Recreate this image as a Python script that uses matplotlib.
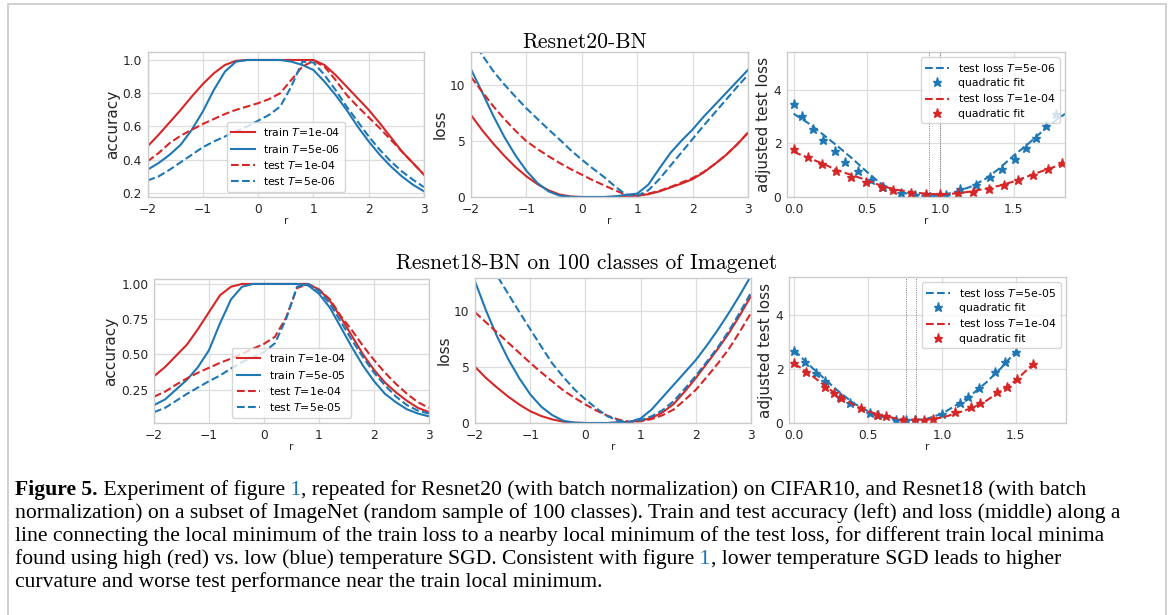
import matplotlib
matplotlib.use('Agg')
import matplotlib.pyplot as plt
from matplotlib.patches import Rectangle

W, H = 1169, 615

RED = '#d62728'
BLUE = '#1f77b4'

# sample positions along the line (r)
r = [-2.0, -1.8, -1.6, -1.4, -1.2, -1.0, -0.8, -0.6, -0.4, -0.2, 0.0, 0.2, 0.4,
     0.6, 0.8, 1.0, 1.2, 1.4, 1.6, 1.8, 2.0, 2.2, 2.4, 2.6, 2.8, 3.0]

# ---- Resnet20-BN (CIFAR10) ----
acc20_train_hi = [0.48, 0.55, 0.625, 0.70, 0.78, 0.855, 0.92, 0.97, 0.995, 1.0, 1.0, 1.0, 1.0,
                  1.0, 1.0, 1.0, 0.97, 0.91, 0.84, 0.77, 0.70, 0.62, 0.535, 0.45, 0.38, 0.31]
acc20_train_lo = [0.34, 0.38, 0.43, 0.49, 0.58, 0.69, 0.82, 0.93, 0.99, 1.0, 1.0, 1.0, 1.0,
                  0.99, 0.97, 0.94, 0.87, 0.79, 0.70, 0.60, 0.51, 0.43, 0.36, 0.30, 0.25, 0.21]
acc20_test_hi = [0.39, 0.44, 0.50, 0.545, 0.58, 0.615, 0.645, 0.675, 0.70, 0.72, 0.74, 0.765, 0.80,
                 0.88, 0.96, 0.995, 0.96, 0.88, 0.79, 0.72, 0.655, 0.59, 0.52, 0.45, 0.38, 0.31]
acc20_test_lo = [0.275, 0.30, 0.34, 0.385, 0.43, 0.475, 0.51, 0.54, 0.57, 0.60, 0.635, 0.67, 0.72,
                 0.84, 0.99, 0.985, 0.91, 0.82, 0.72, 0.63, 0.54, 0.46, 0.39, 0.33, 0.28, 0.235]

loss20_train_hi = [7.35, 6.0, 4.8, 3.7, 2.7, 1.85, 1.15, 0.6, 0.22, 0.05, 0.0, 0.0, 0.0,
                   0.02, 0.1, 0.12, 0.25, 0.5, 0.85, 1.2, 1.6, 2.2, 2.95, 3.75, 4.7, 5.75]
loss20_train_lo = [11.45, 9.4, 7.3, 5.4, 3.75, 2.35, 1.25, 0.5, 0.12, 0.01, 0.0, 0.0, 0.0,
                   0.05, 0.2, 0.3, 1.1, 2.55, 3.95, 5.05, 6.05, 7.2, 8.25, 9.3, 10.35, 11.4]
loss20_test_hi = [10.75, 9.45, 8.15, 7.0, 5.95, 5.0, 4.3, 3.65, 3.05, 2.5, 2.0, 1.5, 1.05,
                  0.6, 0.2, 0.1, 0.3, 0.55, 0.9, 1.3, 1.7, 2.25, 2.95, 3.75, 4.7, 5.8]
loss20_test_lo = [14.2, 12.75, 11.3, 10.1, 9.0, 7.95, 7.0, 6.05, 5.15, 4.2, 3.35, 2.55, 1.8,
                  0.95, 0.2, 0.1, 0.6, 1.6, 2.8, 4.0, 5.2, 6.4, 7.55, 8.7, 9.85, 10.95]

adj20_r = [0.0, 0.1, 0.2, 0.3, 0.4, 0.5, 0.6, 0.7, 0.8, 0.9, 1.0, 1.1, 1.2, 1.3, 1.4, 1.5,
           1.6, 1.7, 1.8, 1.85]
adj20_lo = [3.1, 2.75, 2.33, 1.89, 1.43, 0.93, 0.47, 0.22, 0.09, 0.03, 0.05, 0.19, 0.37, 0.65,
            1.06, 1.55, 1.99, 2.48, 2.92, 3.1]
adj20_hi = [1.68, 1.46, 1.24, 0.99, 0.81, 0.62, 0.41, 0.27, 0.19, 0.12, 0.1, 0.13, 0.2, 0.3,
            0.42, 0.58, 0.78, 0.98, 1.17, 1.27]
fit20_lo_r = [0.0, 0.06, 0.13, 0.20, 0.28, 0.35, 0.44, 0.53, 0.61, 0.73, 0.83, 0.93, 1.04, 1.13,
              1.24, 1.34, 1.42, 1.51, 1.58, 1.65, 1.72, 1.79]
fit20_lo = [3.48, 3.0, 2.55, 2.14, 1.71, 1.30, 0.96, 0.62, 0.37, 0.15, 0.06, 0.0, 0.06, 0.31,
            0.44, 0.75, 1.06, 1.40, 1.84, 2.21, 2.63, 3.08]
fit20_hi_r = [0.0, 0.1, 0.19, 0.29, 0.39, 0.49, 0.6, 0.68, 0.8, 0.9, 1.0, 1.12, 1.22, 1.33, 1.43,
              1.53, 1.63, 1.73, 1.83]
fit20_hi = [1.8, 1.49, 1.22, 0.97, 0.74, 0.56, 0.37, 0.25, 0.15, 0.1, 0.1, 0.15, 0.19, 0.31, 0.44,
            0.62, 0.81, 1.06, 1.27]
minima20 = [0.92, 1.0]

# ---- Resnet18-BN (100 classes of Imagenet) ----
acc18_train_hi = [0.345, 0.41, 0.49, 0.57, 0.68, 0.80, 0.92, 0.98, 1.0, 1.0, 1.0, 1.0, 1.0,
                  1.0, 1.0, 0.96, 0.88, 0.76, 0.63, 0.50, 0.39, 0.30, 0.23, 0.17, 0.12, 0.09]
acc18_train_lo = [0.14, 0.18, 0.25, 0.32, 0.41, 0.53, 0.72, 0.89, 0.98, 1.0, 1.0, 1.0, 1.0,
                  1.0, 0.99, 0.93, 0.83, 0.69, 0.55, 0.42, 0.31, 0.22, 0.16, 0.11, 0.08, 0.06]
acc18_test_hi = [0.20, 0.235, 0.285, 0.33, 0.37, 0.405, 0.44, 0.47, 0.505, 0.54, 0.575, 0.625, 0.76,
                 0.97, 1.0, 0.96, 0.89, 0.77, 0.67, 0.56, 0.46, 0.37, 0.29, 0.22, 0.16, 0.12]
acc18_test_lo = [0.09, 0.12, 0.17, 0.22, 0.265, 0.31, 0.35, 0.40, 0.445, 0.48, 0.515, 0.58, 0.75,
                 0.98, 1.0, 0.95, 0.86, 0.73, 0.60, 0.48, 0.37, 0.28, 0.20, 0.14, 0.10, 0.08]

loss18_train_hi = [5.0, 4.0, 3.15, 2.35, 1.65, 1.05, 0.62, 0.32, 0.12, 0.03, 0.0, 0.0, 0.0,
                   0.05, 0.1, 0.2, 0.45, 0.95, 1.7, 2.8, 4.0, 5.3, 6.6, 8.0, 9.6, 11.3]
loss18_train_lo = [12.6, 10.0, 7.7, 5.7, 4.0, 2.55, 1.45, 0.7, 0.2, 0.03, 0.0, 0.0, 0.0,
                   0.05, 0.1, 0.4, 1.2, 2.3, 3.4, 4.5, 5.6, 6.9, 8.3, 9.8, 11.4, 13.1]
loss18_test_hi = [9.85, 8.95, 8.05, 7.15, 6.25, 5.35, 4.5, 3.7, 2.9, 2.25, 1.65, 1.1, 0.65,
                  0.3, 0.1, 0.15, 0.35, 0.7, 1.2, 2.05, 2.95, 4.1, 5.3, 6.6, 8.15, 9.8]
loss18_test_lo = [16.3, 14.7, 13.1, 11.5, 9.9, 8.35, 6.8, 5.3, 4.1, 3.0, 2.1, 1.3, 0.6,
                  0.2, 0.1, 0.25, 0.6, 1.15, 1.95, 3.05, 4.2, 5.45, 6.75, 8.2, 9.85, 11.6]

adj18_lo_r = [0.0, 0.1, 0.2, 0.3, 0.4, 0.5, 0.6, 0.7, 0.8, 0.9, 1.0, 1.1, 1.2, 1.3, 1.4, 1.5]
adj18_lo = [2.7, 2.15, 1.66, 1.17, 0.74, 0.43, 0.22, 0.12, 0.10, 0.16, 0.34, 0.67, 1.04, 1.5,
            2.03, 2.64]
adj18_hi_r = [0.0, 0.1, 0.2, 0.3, 0.4, 0.5, 0.6, 0.7, 0.8, 0.9, 1.0, 1.1, 1.2, 1.3, 1.4, 1.5, 1.62]
adj18_hi = [2.2, 1.84, 1.41, 1.0, 0.68, 0.43, 0.27, 0.16, 0.12, 0.13, 0.2, 0.36, 0.55, 0.82,
            1.2, 1.57, 2.2]
fit18_lo_r = [0.0, 0.076, 0.15, 0.21, 0.31, 0.38, 0.51, 0.57, 0.69, 0.76, 0.82, 1.0, 1.12, 1.18,
              1.25, 1.36, 1.43, 1.5]
fit18_lo = [2.68, 2.27, 1.84, 1.54, 0.98, 0.74, 0.37, 0.3, 0.1, 0.1, 0.1, 0.34, 0.74, 0.98,
            1.29, 1.9, 2.27, 2.64]
fit18_hi_r = [0.0, 0.08, 0.21, 0.27, 0.32, 0.45, 0.56, 0.62, 0.74, 0.82, 0.88, 0.94, 1.09, 1.2,
              1.26, 1.37, 1.44, 1.51, 1.62]
fit18_hi = [2.21, 1.9, 1.35, 1.1, 0.92, 0.55, 0.3, 0.25, 0.12, 0.12, 0.12, 0.16, 0.39, 0.58,
            0.74, 1.13, 1.35, 1.62, 2.18]
minima18 = [0.754, 0.822]

plt.rcParams.update({
    'font.family': 'DejaVu Sans',
    'axes.edgecolor': '#cccccc',
    'axes.linewidth': 1.0,
    'grid.color': '#dddddd',
    'grid.linewidth': 0.9,
    'xtick.color': '#262626',
    'ytick.color': '#262626',
    'xtick.major.size': 0,
    'ytick.major.size': 0,
    'xtick.major.pad': 4,
    'ytick.major.pad': 4,
    'xtick.labelsize': 8.8,
    'ytick.labelsize': 8.8,
    'axes.labelcolor': '#262626',
    'legend.fontsize': 7.8,
    'legend.edgecolor': '#cccccc',
})

fig = plt.figure(figsize=(W / 100, H / 100), dpi=100)


def box(l, t, rr, b):
    return fig.add_axes([l / W, 1 - b / H, (rr - l) / W, (b - t) / H])


def style(ax, ylabel):
    ax.grid(True)
    ax.set_axisbelow(True)
    ax.set_ylabel(ylabel, fontsize=11, labelpad=2)
    ax.set_xlabel('r', fontsize=7.5, labelpad=0)


def acc_panel(ax, th, tl, eh, el, tlo, yt, ylab, ylim):
    ax.plot(r, th, color=RED, lw=1.5, label='train $T$=1e-04')
    ax.plot(r, tl, color=BLUE, lw=1.5, label='train $T$=' + tlo)
    ax.plot(r, eh, color=RED, lw=1.5, ls='--', label='test $T$=1e-04')
    ax.plot(r, el, color=BLUE, lw=1.5, ls='--', label='test $T$=' + tlo)
    ax.set_xlim(-2, 3)
    ax.set_ylim(*ylim)
    ax.set_xticks([-2, -1, 0, 1, 2, 3])
    ax.set_yticks(yt)
    ax.set_yticklabels(ylab)
    style(ax, 'accuracy')
    ax.legend(loc='lower center', handlelength=2.2, borderpad=0.4, labelspacing=0.4)


def loss_panel(ax, th, tl, eh, el, top):
    ax.plot(r, th, color=RED, lw=1.5)
    ax.plot(r, tl, color=BLUE, lw=1.5)
    ax.plot(r, eh, color=RED, lw=1.5, ls='--')
    ax.plot(r, el, color=BLUE, lw=1.5, ls='--')
    ax.set_xlim(-2, 3)
    ax.set_ylim(0, top)
    ax.set_xticks([-2, -1, 0, 1, 2, 3])
    ax.set_yticks([0, 5, 10])
    style(ax, 'loss')


def adj_panel(ax, lr, ly, hr, hy, flr, fly, fhr, fhy, vl, tlo, xlim):
    for v in vl:
        ax.axvline(v, color='#555555', lw=0.6, ls=':')
    ax.plot(lr, ly, color=BLUE, lw=1.5, ls='--', label='test loss $T$=' + tlo)
    ax.plot(flr, fly, ls='none', marker='*', ms=6.5, color=BLUE, label='quadratic fit')
    ax.plot(hr, hy, color=RED, lw=1.5, ls='--', label='test loss $T$=1e-04')
    ax.plot(fhr, fhy, ls='none', marker='*', ms=6.5, color=RED, label='quadratic fit')
    ax.set_xlim(*xlim)
    ax.set_ylim(0, 5.4)
    ax.set_xticks([0.0, 0.5, 1.0, 1.5])
    ax.set_yticks([0, 2, 4])
    style(ax, 'adjusted test loss')
    ax.legend(loc='upper right', numpoints=1, handlelength=2.2, borderpad=0.4,
              labelspacing=0.4)


acc_panel(box(147.5, 52, 424, 197), acc20_train_hi, acc20_train_lo, acc20_test_hi,
          acc20_test_lo, '5e-06', [0.2, 0.4, 0.6, 0.8, 1.0],
          ['0.2', '0.4', '0.6', '0.8', '1.0'], (0.176, 1.048))
loss_panel(box(471, 52, 748, 197), loss20_train_hi, loss20_train_lo, loss20_test_hi,
           loss20_test_lo, 13.0)
adj_panel(box(787, 52, 1065, 197), adj20_r, adj20_lo, adj20_r, adj20_hi, fit20_lo_r, fit20_lo,
          fit20_hi_r, fit20_hi, minima20, '5e-06', (-0.045, 1.848))

acc_panel(box(154, 279, 429, 423), acc18_train_hi, acc18_train_lo, acc18_test_hi,
          acc18_test_lo, '5e-05', [0.25, 0.5, 0.75, 1.0],
          ['0.25', '0.50', '0.75', '1.00'], (0.013, 1.035))
loss_panel(box(475, 278, 751, 423), loss18_train_hi, loss18_train_lo, loss18_test_hi,
           loss18_test_lo, 12.9)
adj_panel(box(789, 277, 1066, 423), adj18_lo_r, adj18_lo, adj18_hi_r, adj18_hi, fit18_lo_r,
          fit18_lo, fit18_hi_r, fit18_hi, minima18, '5e-05', (-0.035, 1.84))

fig.text(585 / W, 1 - 42 / H, 'Resnet20-BN', family='cmr10', fontsize=15.5,
         ha='center', va='center')
fig.text(587 / W, 1 - 263 / H, 'Resnet18-BN on 100 classes of Imagenet', family='cmr10',
         fontsize=15.5, ha='center', va='center')

# frame around the figure
fig.add_artist(Rectangle((8 / W, -0.05), (1166 - 8) / W, 1.05 - 4 / H, transform=fig.transFigure,
                         fill=False, ec='#c8c8c8', lw=1.2))

# caption
LINK = '#1a75bc'
cap_font = dict(family='Liberation Serif', fontsize=15.6)
caption = [
    [('Figure 5.', 'bold', 'black'), (' Experiment of figure', 'normal', 'black'),
     (' 1', 'normal', LINK),
     (', repeated for Resnet20 (with batch normalization) on CIFAR10, and Resnet18 (with batch',
      'normal', 'black')],
    [('normalization) on a subset of ImageNet (random sample of 100 classes). Train and test '
      'accuracy (left) and loss (middle) along a', 'normal', 'black')],
    [('line connecting the local minimum of the train loss to a nearby local minimum of the test '
      'loss, for different train local minima', 'normal', 'black')],
    [('found using high (red) vs. low (blue) temperature SGD. Consistent with figure', 'normal',
      'black'), (' 1', 'normal', LINK),
     (', lower temperature SGD leads to higher', 'normal', 'black')],
    [('curvature and worse test performance near the train local minimum.', 'normal', 'black')],
]
baselines = [495, 518, 541, 564, 587]

fig.canvas.draw()
renderer = fig.canvas.get_renderer()
for y, pieces in zip(baselines, caption):
    x = 15
    for s, wt, c in pieces:
        t = fig.text(x / W, 1 - y / H, s, color=c, weight=wt, ha='left', va='baseline',
                     **cap_font)
        x += t.get_window_extent(renderer).width

fig.savefig('out.png', dpi=100)
